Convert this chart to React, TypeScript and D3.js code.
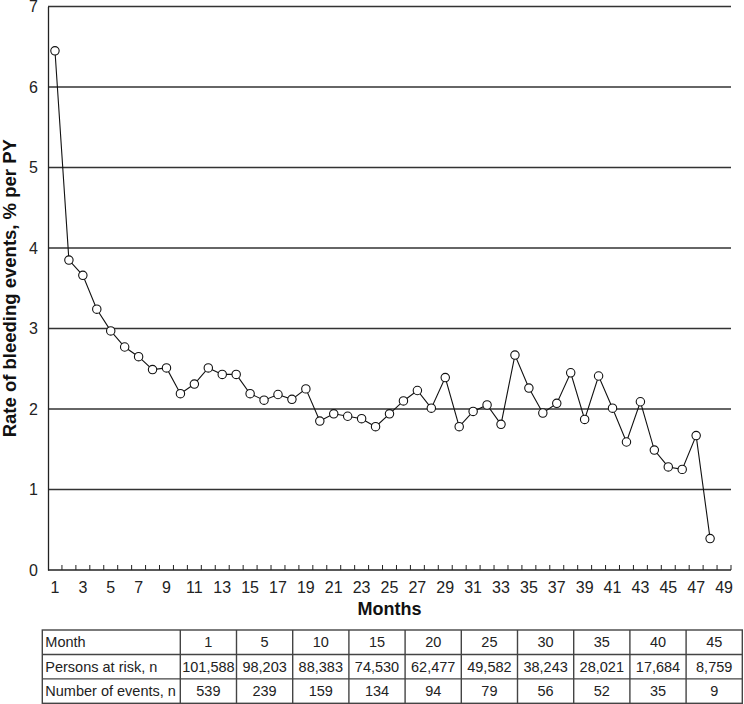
import React, { useEffect, useRef } from 'react';
import * as d3 from 'd3';

// monthly bleeding rate, % per PY (months 1..48)
const months = d3.range(1, 49);
const rates = [
  6.45, 3.85, 3.66, 3.24, 2.97, 2.77, 2.65, 2.49, 2.51, 2.19,
  2.31, 2.51, 2.43, 2.43, 2.19, 2.11, 2.18, 2.12, 2.25, 1.85,
  1.94, 1.91, 1.88, 1.78, 1.94, 2.10, 2.23, 2.01, 2.39, 1.78,
  1.97, 2.05, 1.81, 2.67, 2.26, 1.95, 2.07, 2.45, 1.87, 2.41,
  2.01, 1.59, 2.09, 1.49, 1.28, 1.25, 1.67, 0.39,
];
const axisMonths = d3.range(1, 50);
const yTicks = [0, 1, 2, 3, 4, 5, 6, 7];

// risk table
const tableMonths = ['1', '5', '10', '15', '20', '25', '30', '35', '40', '45'];
const personsAtRisk = ['101,588', '98,203', '88,383', '74,530', '62,477', '49,582', '38,243', '28,021', '17,684', '8,759'];
const numberOfEvents = ['539', '239', '159', '134', '94', '79', '56', '52', '35', '9'];
const rowLabels = ['Month', 'Persons at risk, n', 'Number of events, n'];

const FONT = "'Liberation Sans', Arial, Helvetica, sans-serif";

export default function App() {
  const ref = useRef<SVGSVGElement>(null);

  useEffect(() => {
    const svg = d3.select(ref.current);
    svg.selectAll('*').remove();

    //PLOT AREA
    const left = 48, right = 731, top = 6.5, bottom = 570;

    const x = d3.scaleBand<number>().domain(axisMonths).range([left, right]);
    const y = d3.scaleLinear().domain([0, 7]).range([bottom, top]);
    const cx = (m: number) => (x(m) as number) + x.bandwidth() / 2;

    //GRIDLINES
    svg.append('g')
      .selectAll('line')
      .data(yTicks.filter(d => d > 0))
      .join('line')
      .attr('x1', left).attr('x2', right)
      .attr('y1', d => y(d)).attr('y2', d => y(d))
      .attr('stroke', '#333').attr('stroke-width', 1.3);

    //Y AXIS
    svg.append('g')
      .attr('transform', `translate(${left},0)`)
      .call(d3.axisLeft(y).tickValues(yTicks).tickFormat(d3.format('d')).tickSize(0).tickPadding(10))
      .call(g => g.select('.domain').attr('stroke', '#222').attr('stroke-width', 1.3))
      .call(g => g.selectAll('text')
        .attr('font-family', FONT).attr('font-size', 16).attr('fill', '#222'));

    //X AXIS - ticks sit on the category boundaries
    const gx = svg.append('g').attr('transform', `translate(0,${bottom})`);
    gx.append('line')
      .attr('x1', left).attr('x2', right)
      .attr('stroke', '#222').attr('stroke-width', 1.3);
    gx.selectAll('line.tick')
      .data(axisMonths)
      .join('line')
      .attr('class', 'tick')
      .attr('x1', d => (x(d) as number) + x.bandwidth())
      .attr('x2', d => (x(d) as number) + x.bandwidth())
      .attr('y1', 0).attr('y2', -5)
      .attr('stroke', '#222').attr('stroke-width', 1);
    gx.selectAll('text')
      .data(axisMonths.filter(d => d % 2 === 1))
      .join('text')
      .attr('x', d => cx(d))
      .attr('y', 22.5)
      .attr('text-anchor', 'middle')
      .attr('font-family', FONT).attr('font-size', 16).attr('fill', '#222')
      .text(d => d);

    //AXIS TITLES
    svg.append('text')
      .attr('x', (left + right) / 2)
      .attr('y', 615)
      .attr('text-anchor', 'middle')
      .attr('font-family', FONT).attr('font-size', 18).attr('font-weight', 'bold')
      .attr('fill', '#111')
      .text('Months');

    svg.append('text')
      .attr('transform', `translate(16,${(top + bottom) / 2}) rotate(-90)`)
      .attr('text-anchor', 'middle')
      .attr('font-family', FONT).attr('font-size', 18.5).attr('font-weight', 'bold')
      .attr('fill', '#111')
      .text('Rate of bleeding events, % per PY');

    //LINE AND MARKERS
    const data = months.map((m, i) => ({ m, v: rates[i] }));
    svg.append('path')
      .datum(data)
      .attr('fill', 'none')
      .attr('stroke', '#111')
      .attr('stroke-width', 1.1)
      .attr('d', d3.line<{ m: number; v: number }>()
        .x(d => cx(d.m))
        .y(d => y(d.v)));

    svg.append('g')
      .selectAll('circle')
      .data(data)
      .join('circle')
      .attr('cx', d => cx(d.m))
      .attr('cy', d => y(d.v))
      .attr('r', 4.2)
      .attr('fill', '#fff')
      .attr('stroke', '#111')
      .attr('stroke-width', 1.1);

    //RISK TABLE
    const tLeft = 42.3, tLabelRight = 180.3, tRight = 742.3;
    const col = d3.scaleLinear().domain([0, tableMonths.length]).range([tLabelRight, tRight]);
    const row = d3.scaleBand<string>().domain(rowLabels).range([630, 703.3]);
    const rowValues = [tableMonths, personsAtRisk, numberOfEvents];

    const table = svg.append('g');
    table.append('rect')
      .attr('x', tLeft).attr('y', 630)
      .attr('width', tRight - tLeft).attr('height', 703.3 - 630)
      .attr('fill', 'none').attr('stroke', '#444').attr('stroke-width', 1.4);
    table.selectAll('line.h')
      .data(rowLabels.slice(1))
      .join('line')
      .attr('class', 'h')
      .attr('x1', tLeft).attr('x2', tRight)
      .attr('y1', d => row(d) as number).attr('y2', d => row(d) as number)
      .attr('stroke', '#444').attr('stroke-width', 1.4);
    table.selectAll('line.v')
      .data(d3.range(0, tableMonths.length))
      .join('line')
      .attr('class', 'v')
      .attr('x1', d => col(d)).attr('x2', d => col(d))
      .attr('y1', 630).attr('y2', 703.3)
      .attr('stroke', '#444').attr('stroke-width', 1.4);

    rowLabels.forEach((label, ri) => {
      const yy = (row(label) as number) + row.bandwidth() / 2 + 5;
      table.append('text')
        .attr('x', tLeft + 3).attr('y', yy)
        .attr('font-family', FONT).attr('font-size', 14.5).attr('fill', '#222')
        .text(label);
      table.selectAll(`text.r${ri}`)
        .data(rowValues[ri])
        .join('text')
        .attr('class', `r${ri}`)
        .attr('x', (d, i) => col(i + 0.5))
        .attr('y', yy)
        .attr('text-anchor', 'middle')
        .attr('font-family', FONT).attr('font-size', 14.5).attr('fill', '#222')
        .text(d => d);
    });
  }, []);

  return (
    <svg
      ref={ref}
      width={744}
      height={704}
      style={{ position: 'absolute', left: 0, top: 0, background: '#fff' }}
    />
  );
}
